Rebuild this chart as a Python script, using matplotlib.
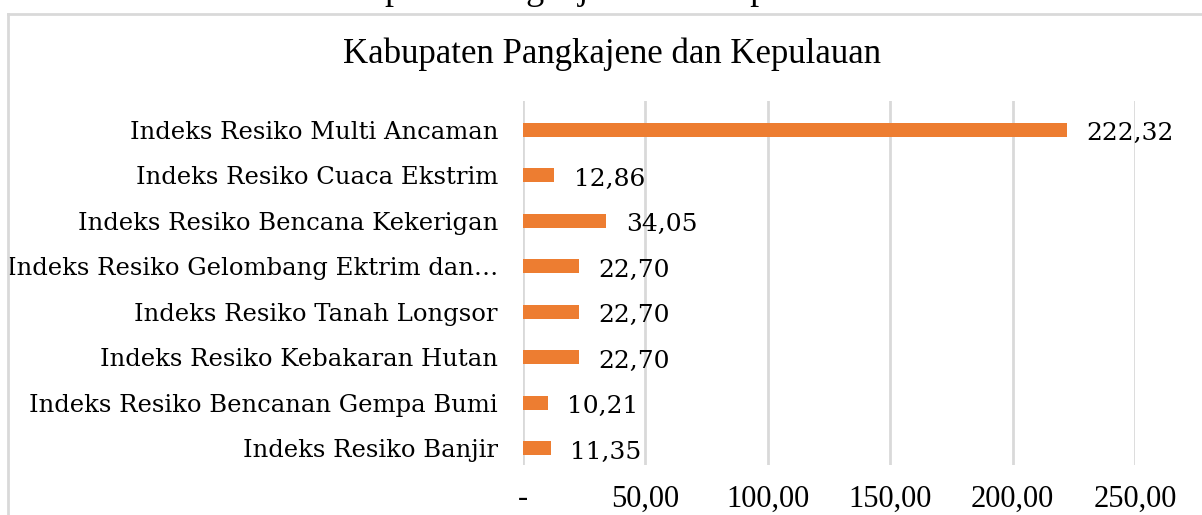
import matplotlib.pyplot as plt
import matplotlib.transforms as mtransforms
from matplotlib.lines import Line2D

# data (bottom to top, as drawn)
kategori = [
    "Indeks Resiko Banjir",
    "Indeks Resiko Bencanan Gempa Bumi",
    "Indeks Resiko Kebakaran Hutan",
    "Indeks Resiko Tanah Longsor",
    "Indeks Resiko Gelombang Ektrim dan…",
    "Indeks Resiko Bencana Kekerigan",
    "Indeks Resiko Cuaca Ekstrim",
    "Indeks Resiko Multi Ancaman",
]
nilai = [11.35, 10.21, 22.70, 22.70, 22.70, 34.05, 12.86, 222.32]
xticks = [0, 50, 100, 150, 200, 250]
xlabels = ["-", "50,00", "100,00", "150,00", "200,00", "250,00"]
judul = "Kabupaten Pangkajene dan Kepulauan"

W, H = 1202, 515
fig = plt.figure(figsize=(W / 100, H / 100), dpi=100)
fig.patch.set_facecolor("white")

# chart border (only top and left visible in the crop)
top = 1 - 14 / H
fig.add_artist(Line2D([8 / W, 1.0], [top, top], transform=fig.transFigure,
                      color="#D9D9D9", lw=2))
fig.add_artist(Line2D([8 / W, 8 / W], [0, top], transform=fig.transFigure,
                      color="#D9D9D9", lw=2))

# text cut at the top of the picture
fig.text(586 / W, 1 + 1 / H, judul, ha="center", va="baseline",
         fontsize=26, family="Liberation Serif")

ax = fig.add_axes([523 / W, (H - 465) / H, (1135 - 523) / W, 364 / H])
pos = range(len(kategori))
ax.barh(pos, nilai, height=0.31, color="#ED7D31", zorder=3)
ax.set_xlim(0, 250)
# bars sit a little lower than the gridlines in the original
ax.set_ylim(-0.37, len(kategori) - 0.37)

for i, v in enumerate(nilai):
    ax.annotate(f"{v:.2f}".replace(".", ","), (v, i), xytext=(14, -3),
                textcoords="offset points", va="center", ha="left",
                fontsize=18, family="DejaVu Serif", color="#000000")

ax.set_yticks(list(pos))
ax.set_yticklabels(kategori, fontsize=17.5, family="DejaVu Serif")
# category labels a bit higher than the bars
up = mtransforms.ScaledTranslation(0, 4 / 100, fig.dpi_scale_trans)
for lbl in ax.get_yticklabels():
    lbl.set_transform(lbl.get_transform() + up)
ax.set_xticks(xticks)
ax.set_xticklabels(xlabels, fontsize=22, family="Liberation Serif")
ax.tick_params(length=0, pad=14, axis="x")
ax.tick_params(length=0, pad=18, axis="y")
ax.grid(axis="x", color="#D9D9D9", lw=2, zorder=0)
for s in ax.spines.values():
    s.set_visible(False)

fig.text(612 / W, 1 - 54 / H, judul, ha="center", va="center",
         fontsize=25, family="Liberation Serif")

fig.savefig("out.png", dpi=100)
